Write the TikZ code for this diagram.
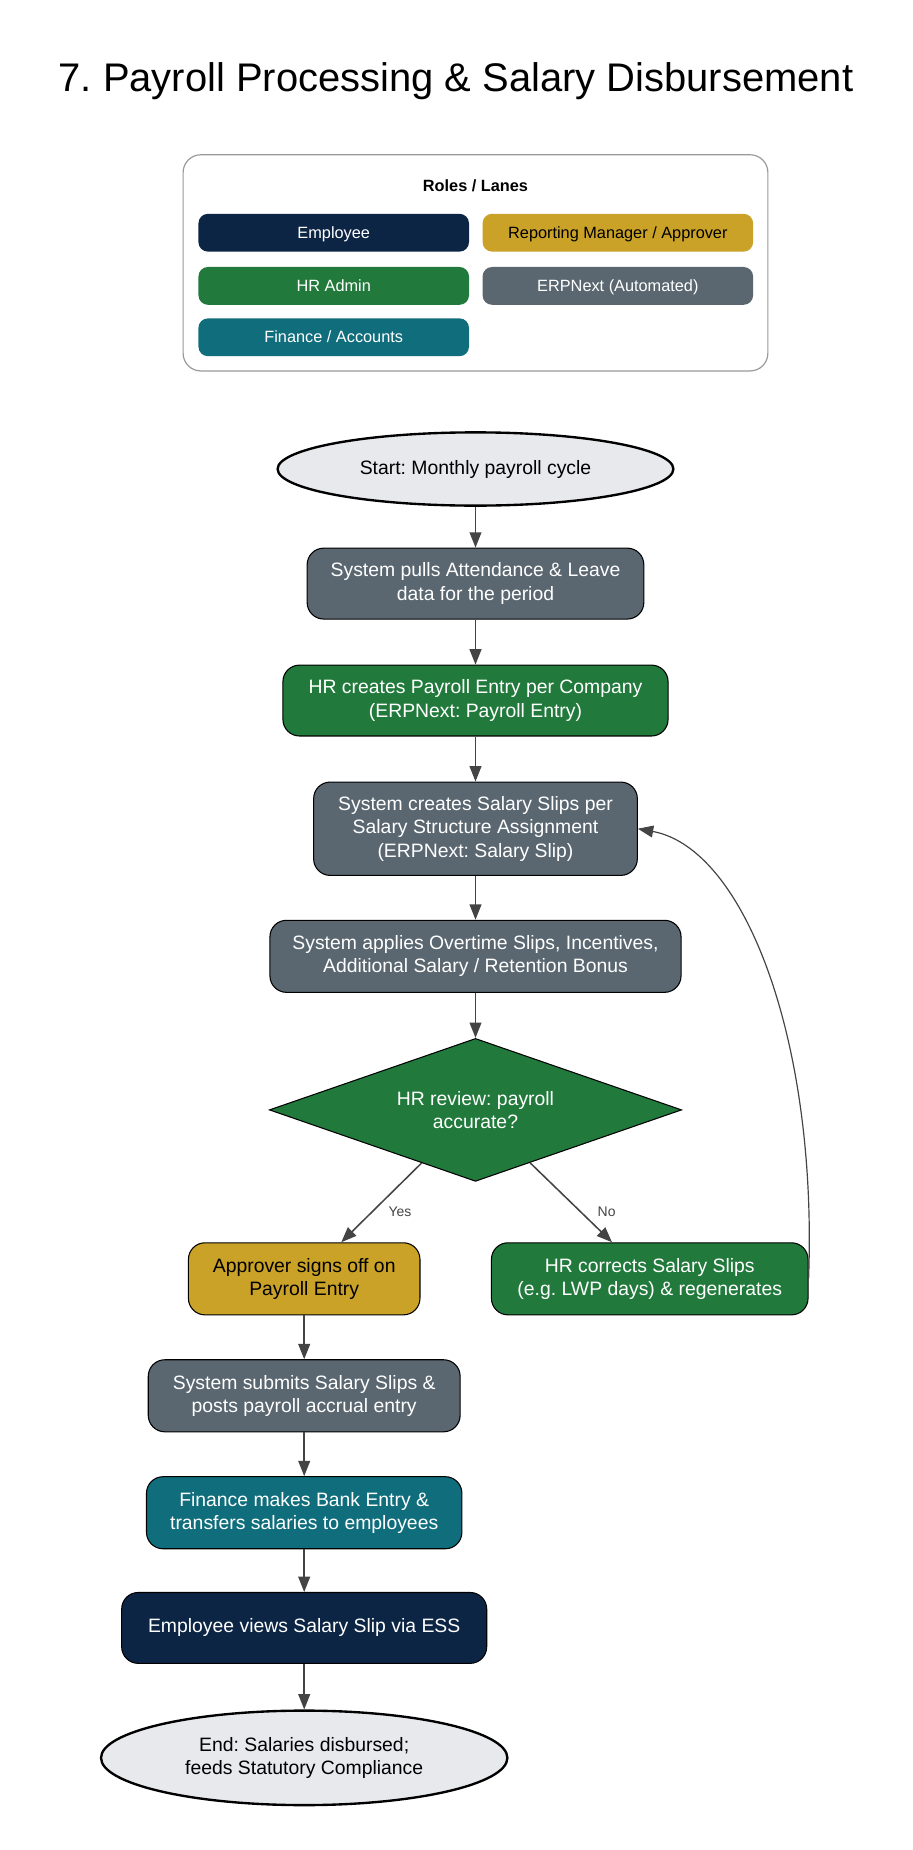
\documentclass[tikz,border=0pt]{standalone}
\usepackage{fontspec}
\setmainfont{Liberation Sans}
\usetikzlibrary{shapes.geometric,arrows.meta}
\definecolor{navy}{HTML}{0D2545}
\definecolor{gold}{HTML}{C9A227}
\definecolor{hrgreen}{HTML}{217A3C}
\definecolor{sysgrey}{HTML}{5A6770}
\definecolor{teal}{HTML}{106E7C}
\definecolor{termfill}{HTML}{E8E9ED}
\definecolor{edgecol}{HTML}{444444}
\definecolor{legborder}{HTML}{999999}
\newcommand{\nodefont}{\fontsize{16.4}{19.7}\selectfont}
\newcommand{\legfont}{\fontsize{13.8}{16}\selectfont}
\frenchspacing
\tikzset{
  flowbox/.style={rectangle, rounded corners=14pt, draw=black, line width=0.9pt,
    align=center, font=\nodefont, inner sep=0pt, text=white},
  termnode/.style={ellipse, draw=black, line width=2pt, fill=termfill,
    align=center, font=\nodefont, inner sep=0pt, text=black},
  legentry/.style={rectangle, rounded corners=8pt, minimum width=229pt,
    minimum height=32pt, inner sep=0pt, font=\legfont, text=white,
    text height=11.5pt, text depth=2pt},
  flowarrow/.style={draw=edgecol, line width=1.3pt,
    -{Triangle[length=13pt,width=10pt]}},
  loopedge/.style={draw=edgecol, line width=1pt,
    -{Triangle[length=13pt,width=10pt]}},
  edgelabel/.style={font=\fontsize{11.8}{13}\selectfont, text=edgecol},
}
\begin{document}
\frenchspacing
\begin{tikzpicture}[x=1pt,y=-1pt]
\useasboundingbox (0,0) rectangle (772,1566);
\fill[white] (0,0) rectangle (772,1566);

% title
\node[font=\fontsize{33.8}{40}\selectfont] (title) at (386,69) {7. Payroll Processing \& Salary Disbursement};

% legend
\draw[legborder, line width=1pt, rounded corners=15pt] (155,131) rectangle (650,314);
\node[font=\bfseries\fontsize{13.8}{16}\selectfont] (legtitle) at (402.5,157) {Roles / Lanes};
\node[legentry, fill=navy] (lemp) at (282.5,197) {Employee};
\node[legentry, fill=gold, text=black] (lmgr) at (523,197) {Reporting Manager / Approver};
\node[legentry, fill=hrgreen] (lhr) at (282.5,242) {HR Admin};
\node[legentry, fill=sysgrey] (lerp) at (523,242) {ERPNext (Automated)};
\node[legentry, fill=teal] (lfin) at (282.5,285.5) {Finance / Accounts};

% flow nodes
\node[termnode, minimum width=335pt, minimum height=62pt] (start) at (402.5,397) {Start: Monthly payroll cycle};
\node[flowbox, fill=sysgrey, minimum width=285pt, minimum height=60pt] (pull) at (402.5,494) {System pulls Attendance \& Leave\\data for the period};
\node[flowbox, fill=hrgreen, minimum width=326pt, minimum height=60pt] (pe) at (402.5,593) {HR creates Payroll Entry per Company\\(ERPNext: Payroll Entry)};
\node[flowbox, fill=sysgrey, minimum width=274pt, minimum height=79pt] (slips) at (402.5,701.5) {System creates Salary Slips per\\Salary Structure Assignment\\(ERPNext: Salary Slip)};
\node[flowbox, fill=sysgrey, minimum width=348pt, minimum height=61pt] (apply) at (402.5,809.5) {System applies Overtime Slips, Incentives,\\Additional Salary / Retention Bonus};
\node[diamond, draw=black, line width=0.9pt, fill=hrgreen, text=white, align=center,
  font=\nodefont, inner sep=0pt, aspect=2.88, minimum width=349pt, minimum height=121pt] (review) at (402.5,939.5) {HR review: payroll\\accurate?};
\node[flowbox, fill=gold, text=black, minimum width=196pt, minimum height=61pt] (appr) at (257.5,1082.5) {Approver signs off on\\Payroll Entry};
\node[flowbox, fill=hrgreen, minimum width=268pt, minimum height=61pt] (corr) at (550,1082.5) {HR corrects Salary Slips\\(e.g. LWP days) \& regenerates};
\node[flowbox, fill=sysgrey, minimum width=264pt, minimum height=61pt] (submit) at (257.5,1181.5) {System submits Salary Slips \&\\posts payroll accrual entry};
\node[flowbox, fill=teal, minimum width=267pt, minimum height=61pt] (bank) at (257.5,1280.5) {Finance makes Bank Entry \&\\transfers salaries to employees};
\node[flowbox, fill=navy, minimum width=309pt, minimum height=60pt] (ess) at (257.5,1378) {Employee views Salary Slip via ESS};
\node[termnode, minimum width=344pt, minimum height=80pt] (end) at (257.5,1488) {End: Salaries disbursed;\\feeds Statutory Compliance};

% edges
\draw[flowarrow] (start) -- (pull);
\draw[flowarrow] (pull) -- (pe);
\draw[flowarrow] (pe) -- (slips);
\draw[flowarrow] (slips) -- (apply);
\draw[flowarrow] (apply) -- (review);
\draw[flowarrow] (review) -- (appr);
\draw[flowarrow] (review) -- (corr);
\draw[flowarrow] (appr) -- (submit);
\draw[flowarrow] (submit) -- (bank);
\draw[flowarrow] (bank) -- (ess);
\draw[flowarrow] (ess) -- (end);
\draw[loopedge] (corr.east) .. controls (692,880) and (630,718) .. (slips.east);

\node[edgelabel] (yes) at (338.5,1026) {Yes};
\node[edgelabel] (no) at (513.5,1026) {No};
\end{tikzpicture}
\end{document}
